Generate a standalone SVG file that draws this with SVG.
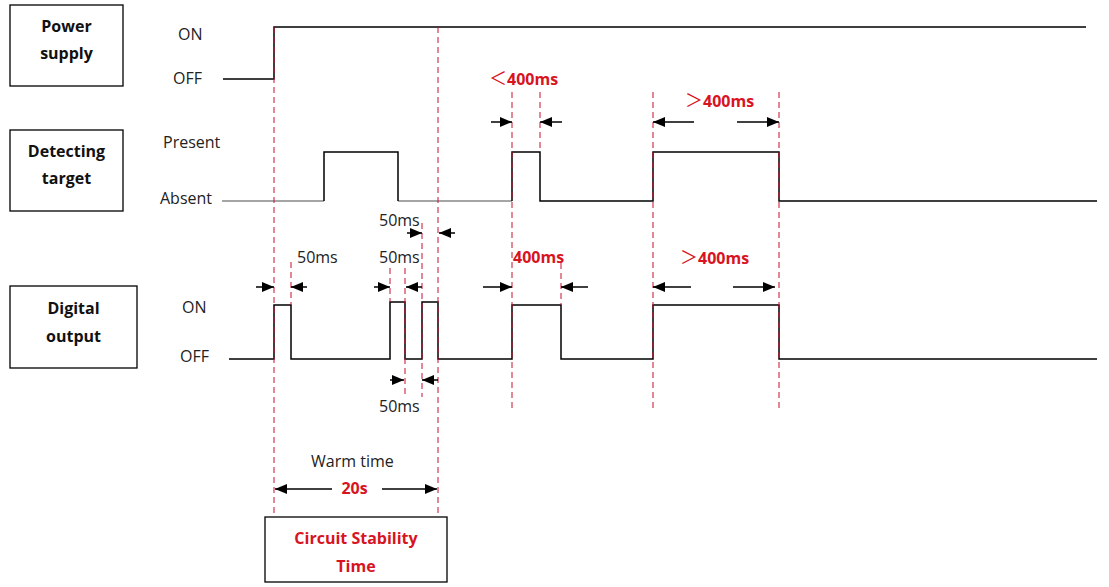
<svg xmlns="http://www.w3.org/2000/svg" width="1109" height="587" viewBox="0 0 1109 587">
<defs>
<style>
.box{fill:#fff;stroke:#000;stroke-width:1.3}
.bt{font-family:"Open Sans","Noto Sans",sans-serif;font-size:16px;font-weight:bold;fill:#111;text-anchor:middle}
.rt{font-family:"Open Sans","Noto Sans",sans-serif;font-size:16px;font-weight:bold;fill:#d7141f;text-anchor:middle}
.lb{font-family:"Open Sans","Noto Sans",sans-serif;font-size:16px;fill:#222}
.rl{font-family:"Open Sans","Noto Sans CJK SC",sans-serif;font-size:16px;font-weight:bold;fill:#d7141f}
.cmp{font-weight:normal;font-size:18px}
.sig{fill:none;stroke:#000;stroke-width:1.5}
.gry{fill:none;stroke:#888;stroke-width:1.5}
.dash{stroke:#c8102e;stroke-width:1;stroke-dasharray:6,4;fill:none}
.arr{stroke:#000;stroke-width:1.5;fill:none;marker-end:url(#ah)}
</style>
<marker id="ah" markerUnits="userSpaceOnUse" markerWidth="12" markerHeight="10" refX="12" refY="5" orient="auto">
<path d="M0,0 L12,5 L0,10 z" fill="#000"/>
</marker>
</defs>
<rect width="1109" height="587" fill="#fff"/>

<g id="power-supply">
<rect class="box" x="10" y="5" width="113" height="81"/>
<text class="bt" x="66.5" y="32">Power</text>
<text class="bt" x="66.5" y="59">supply</text>
<text class="lb" x="178" y="40">ON</text>
<text class="lb" x="173" y="84">OFF</text>
</g>

<g id="detecting-target">
<rect class="box" x="10" y="130" width="113" height="81"/>
<text class="bt" x="66.5" y="157">Detecting</text>
<text class="bt" x="66.5" y="184">target</text>
<text class="lb" x="163" y="148">Present</text>
<text class="lb" x="160" y="204">Absent</text>
</g>

<g id="digital-output">
<rect class="box" x="10" y="286" width="127" height="82"/>
<text class="bt" x="73.5" y="314">Digital</text>
<text class="bt" x="73.5" y="342">output</text>
<text class="lb" x="182" y="313">ON</text>
<text class="lb" x="180" y="362">OFF</text>
</g>

<g id="circuit-stability">
<rect class="box" x="265" y="517" width="182" height="65"/>
<text class="rt" x="356" y="544">Circuit Stability</text>
<text class="rt" x="356" y="572">Time</text>
</g>

<g id="signals">
<path class="sig" d="M223,79 H274 V27 H1086"/>
<path class="gry" d="M222,201 H324 M398,201 H512"/>
<path class="sig" d="M324,201 V152 H398 V201"/>
<path class="sig" d="M512,201 V152 H540 V201 H653 V152 H779 V201 H1097"/>
<path class="sig" d="M229,359 H274 V305 H291 V359 H390 V302 H405 V359 H422 V302 H438 V359 H512 V305 H561 V359 H653 V305 H779 V359 H1097"/>
</g>

<g id="guides">
<line class="dash" x1="274" y1="27" x2="274" y2="513"/>
<line class="dash" x1="438" y1="27" x2="438" y2="513"/>
<line class="dash" x1="512" y1="92" x2="512" y2="412"/>
<line class="dash" x1="540" y1="92" x2="540" y2="152"/>
<line class="dash" x1="653" y1="92" x2="653" y2="412"/>
<line class="dash" x1="779" y1="92" x2="779" y2="412"/>
<line class="dash" x1="291" y1="262" x2="291" y2="305"/>
<line class="dash" x1="390" y1="268" x2="390" y2="302"/>
<line class="dash" x1="405" y1="268" x2="405" y2="397"/>
<line class="dash" x1="422" y1="223" x2="422" y2="397"/>
<line class="dash" x1="561" y1="263" x2="561" y2="305"/>
</g>

<g id="connectors">
<line class="arr" x1="491" y1="122" x2="512" y2="122"/>
<line class="arr" x1="562" y1="122" x2="540" y2="122"/>
<line class="arr" x1="694" y1="122" x2="653" y2="122"/>
<line class="arr" x1="737" y1="122" x2="779" y2="122"/>
<line class="arr" x1="407" y1="233" x2="422" y2="233"/>
<line class="arr" x1="455" y1="233" x2="439" y2="233"/>
<line class="arr" x1="256" y1="287" x2="274" y2="287"/>
<line class="arr" x1="307" y1="287" x2="291" y2="287"/>
<line class="arr" x1="374" y1="287" x2="390" y2="287"/>
<line class="arr" x1="422" y1="287" x2="406" y2="287"/>
<line class="arr" x1="483" y1="287" x2="512" y2="287"/>
<line class="arr" x1="588" y1="287" x2="561" y2="287"/>
<line class="arr" x1="691" y1="287" x2="653" y2="287"/>
<line class="arr" x1="733" y1="287" x2="775" y2="287"/>
<line class="arr" x1="390" y1="380" x2="404" y2="380"/>
<line class="arr" x1="438" y1="380" x2="422" y2="380"/>
<line class="arr" x1="332" y1="489" x2="275" y2="489"/>
<line class="arr" x1="382" y1="489" x2="437" y2="489"/>
</g>

<g id="labels">
<text class="rl" x="489" y="85"><tspan class="cmp">＜</tspan>400ms</text>
<text class="rl" x="685" y="107"><tspan class="cmp">＞</tspan>400ms</text>
<text class="rl" x="513" y="263">400ms</text>
<text class="rl" x="680" y="264"><tspan class="cmp">＞</tspan>400ms</text>
<text class="lb" x="297" y="263">50ms</text>
<text class="lb" x="379" y="263">50ms</text>
<text class="lb" x="379" y="226">50ms</text>
<text class="lb" x="379" y="412">50ms</text>
<text class="lb" x="311" y="467">Warm time</text>
<text class="rt" x="354.5" y="494">20s</text>
</g>
</svg>
